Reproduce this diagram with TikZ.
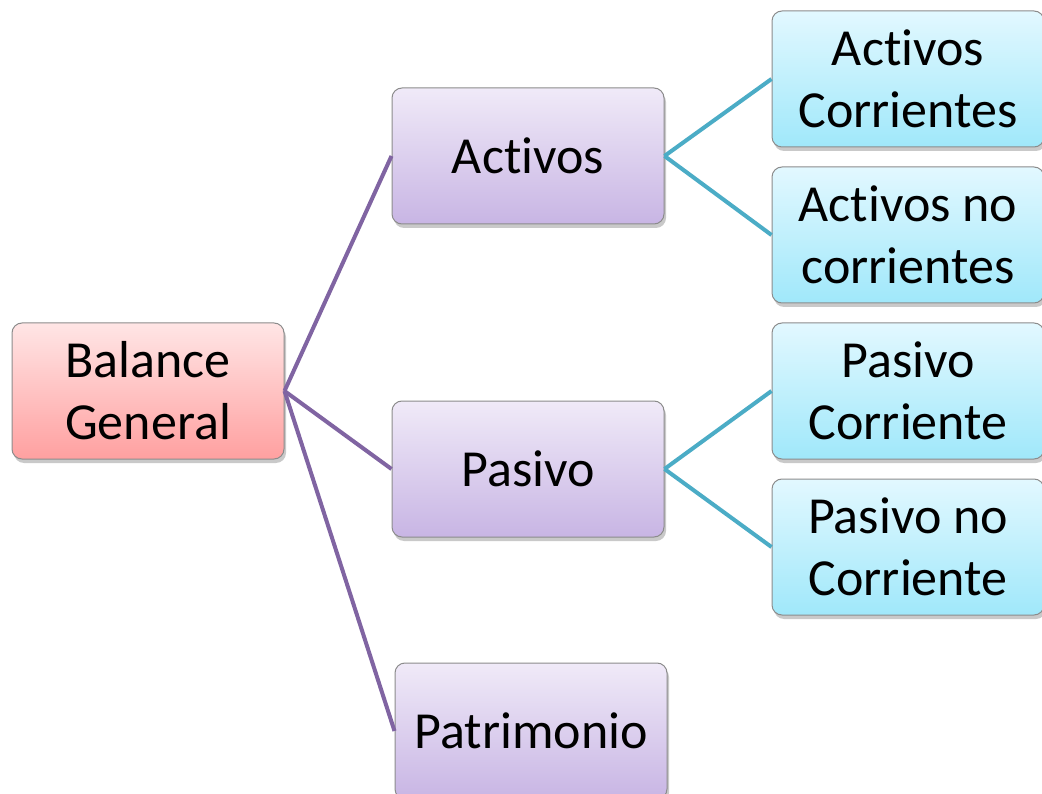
\documentclass[tikz,border=0pt]{standalone}
\usepackage{fontspec}
\setmainfont[Ligatures={NoCommon}]{Carlito}
\usetikzlibrary{shadows}
\definecolor{purpleline}{HTML}{8064A2}
\definecolor{tealline}{HTML}{4BACC6}
\definecolor{boxborder}{HTML}{8C8C8C}
\tikzset{
  box/.style={draw=boxborder, line width=1pt, rounded corners=10pt,
    minimum width=272pt, minimum height=136pt, inner sep=0pt,
    align=center, font=\fontsize{52pt}{62pt}\selectfont,
    drop shadow={shadow xshift=2pt, shadow yshift=-4pt, opacity=0.35, fill=black!60}},
  rootbox/.style={box, top color=red!10!white, bottom color={rgb,255:red,255;green,160;blue,160}},
  midbox/.style={box, top color={rgb,255:red,240;green,234;blue,248}, bottom color={rgb,255:red,200;green,181;blue,228}},
  leafbox/.style={box, top color={rgb,255:red,226;green,248;blue,255}, bottom color={rgb,255:red,160;green,232;blue,250}},
  purplelink/.style={draw=purpleline, line width=4pt},
  teallink/.style={draw=tealline, line width=4pt}
}
\begin{document}
\begin{tikzpicture}[x=1pt,y=-1pt]
\useasboundingbox (0,0) rectangle (1042,794);
\clip (0,0) rectangle (1042,794);
\fill[white] (0,0) rectangle (1042,794);
\node[rootbox] (bal) at (148,391) {Balance\\General};
\node[midbox] (act) at (528,156) {Activos};
\node[midbox] (pas) at (528,469) {Pasivo};
\node[midbox] (pat) at (531,731) {Patrimonio};
\node[leafbox] (ac) at (908,79) {Activos\\Corrientes};
\node[leafbox] (anc) at (908,235) {Activos no\\corrientes};
\node[leafbox] (pc) at (908,391) {Pasivo\\Corriente};
\node[leafbox] (pnc) at (908,547) {Pasivo no\\Corriente};
\draw[purplelink] (bal.east) -- (act.west);
\draw[purplelink] (bal.east) -- (pas.west);
\draw[purplelink] (bal.east) -- (pat.west);
\draw[teallink] (act.east) -- (ac.west);
\draw[teallink] (act.east) -- (anc.west);
\draw[teallink] (pas.east) -- (pc.west);
\draw[teallink] (pas.east) -- (pnc.west);
\end{tikzpicture}
\end{document}
